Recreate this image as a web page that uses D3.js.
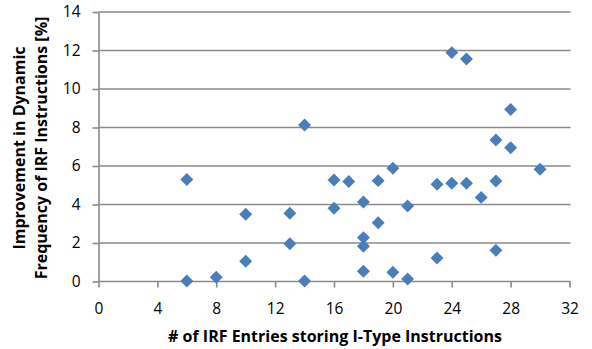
<!DOCTYPE html>
<html>
<head>
<meta charset="utf-8">
<script src="https://cdn.jsdelivr.net/npm/d3@7"></script>
<style>
  body { margin: 0; background: #fff; }
  svg { display: block; font-family: "Open Sans", sans-serif; }
</style>
</head>
<body>
<div id="chart"></div>
<script>
const w = 592;
const h = 349;

// x = # of IRF entries storing I-type instructions, y = improvement [%]
const entries = [6, 6, 8, 10, 10, 13, 13, 14, 14, 16, 16, 17, 18, 18, 18, 18, 19, 19,
  20, 20, 21, 21, 23, 23, 24, 24, 25, 25, 26, 27, 27, 27, 28, 28, 30];
const improvement = [5.3, 0.03, 0.22, 3.49, 1.05, 3.54, 1.96, 8.13, 0.03, 5.27, 3.8, 5.19, 4.13, 2.28, 1.83, 0.53, 5.24, 3.05,
  5.88, 0.48, 3.92, 0.13, 5.05, 1.22, 11.89, 5.1, 11.56, 5.1, 4.37, 7.35, 5.22, 1.62, 8.94, 6.95, 5.83];
const xTicks = [0, 4, 8, 12, 16, 20, 24, 28, 32];
const yTicks = [0, 2, 4, 6, 8, 10, 12, 14];

const data = entries.map((x, i) => [x, improvement[i]]);

const svg = d3.select("#chart").append("svg").attr("width", w).attr("height", h);

const xScale = d3.scaleLinear().domain([0, 32]).range([98.5, 569.5]);
const yScale = d3.scaleLinear().domain([0, 14]).range([281.5, 12]);

const gridColor = "#8a8a8a";

//Gridlines
svg.append("g")
  .selectAll("line")
  .data(yTicks.filter((d) => d > 0))
  .enter()
  .append("line")
  .attr("x1", xScale(0))
  .attr("x2", xScale(32) + 1)
  .attr("y1", (d) => yScale(d))
  .attr("y2", (d) => yScale(d))
  .attr("stroke", gridColor)
  .attr("stroke-width", 1.6);

//Axes
const xAxis = d3.axisBottom(xScale).tickValues(xTicks).tickSizeInner(6).tickSizeOuter(0).tickPadding(15);
const yAxis = d3.axisLeft(yScale).tickValues(yTicks).tickSizeInner(6).tickSizeOuter(0).tickPadding(12);

const gx = svg.append("g")
  .attr("id", "x-axis")
  .attr("transform", `translate(0, ${yScale(0)})`)
  .call(xAxis);

const gy = svg.append("g")
  .attr("id", "y-axis")
  .attr("transform", `translate(${xScale(0)}, 0)`)
  .call(yAxis);

[gx, gy].forEach((g) => {
  g.select(".domain").attr("stroke", gridColor).attr("stroke-width", 1.6);
  g.selectAll(".tick line").attr("stroke", gridColor).attr("stroke-width", 1.6);
  g.selectAll(".tick text").attr("fill", "#000").style("font-size", "15.5px").style("font-family", "'Open Sans', sans-serif");
});
gx.select(".domain").attr("d", `M${xScale(0)},0H${xScale(32) + 1}`);

//Points
const diamond = d3.symbol().type(d3.symbolSquare).size(84);
svg.append("g")
  .selectAll("path")
  .data(data)
  .enter()
  .append("path")
  .attr("d", diamond)
  .attr("transform", (d) => `translate(${xScale(d[0])}, ${yScale(d[1])}) rotate(45)`)
  .attr("fill", "#4a7ebb");

//Titles
svg.append("text")
  .attr("x", 335)
  .attr("y", 341.5)
  .attr("text-anchor", "middle")
  .style("font-size", "16px")
  .style("font-weight", "bold")
  .text("# of IRF Entries storing I-Type Instructions");

const yTitle = svg.append("text")
  .attr("transform", "translate(24.5, 148) rotate(-90)")
  .attr("text-anchor", "middle")
  .style("font-size", "16px")
  .style("font-weight", "bold");
yTitle.append("tspan").attr("x", 0).attr("y", 0).text("Improvement in Dynamic");
yTitle.append("tspan").attr("x", 0).attr("y", 22).text("Frequency of IRF Instructions [%]");
</script>
</body>
</html>
